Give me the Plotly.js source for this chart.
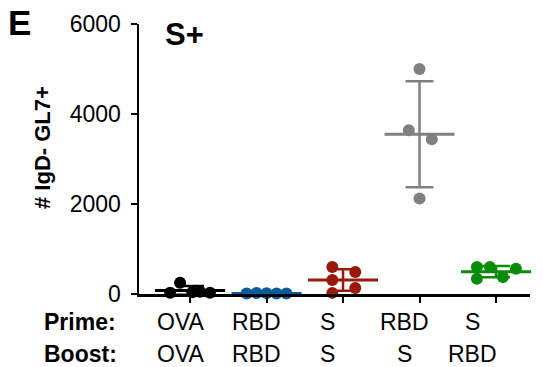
<!DOCTYPE html>
<html>
<head>
<meta charset="utf-8">
<script src="https://cdn.plot.ly/plotly-3.0.1.min.js"></script>
<style>html,body{margin:0;padding:0;background:#fff;}#chart{width:543px;height:367px;}</style>
</head>
<body>
<div id="chart"></div>
<script>
// Groups (Prime / Boost)
const primeLabels = ["OVA", "RBD", "S", "RBD", "S"];
const boostLabels = ["OVA", "RBD", "S", "S", "RBD"];
const groupColors = ["#000000", "#0b5a9b", "#981a0c", "#808080", "#0a8c0a"];

// # IgD- GL7+ (S+) per mouse
const ovaOva = [30, 250, 40, 50, 30];
const rbdRbd = [10, 20, 15, 10, 10];
const sS = [600, 490, 310, 135, 25];
const rbdS = [5000, 3640, 3440, 2120];
const sRbd = [600, 600, 560, 340, 380];
// horizontal scatter offsets of each dot within its group (category units)
const ovaOvaJit = [-0.26, -0.13, 0.03, 0.13, 0.26];
const rbdRbdJit = [-0.26, -0.13, 0, 0.13, 0.26];
const sSJit = [-0.14, 0.16, -0.14, 0.16, -0.14];
const rbdSJit = [0, -0.14, 0.16, 0];
const sRbdJit = [-0.25, -0.08, 0.26, -0.25, 0.09];

const yTicks = [0, 2000, 4000, 6000];

const groups = [ovaOva, rbdRbd, sS, rbdS, sRbd];
const jits = [ovaOvaJit, rbdRbdJit, sSJit, rbdSJit, sRbdJit];

function mean(a){return a.reduce((s,v)=>s+v,0)/a.length;}
function sd(a){const m=mean(a);return Math.sqrt(a.reduce((s,v)=>s+(v-m)*(v-m),0)/(a.length-1));}

const FONT = "Arial, 'Liberation Sans', Helvetica, sans-serif";
const traces = [];
groups.forEach((g, i) => {
  traces.push({
    type: "scatter", mode: "markers",
    x: g.map((v, k) => i + jits[i][k]), y: g,
    marker: {color: groupColors[i], size: 12},
    showlegend: false, hoverinfo: "y", cliponaxis: false
  });
});
groups.forEach((g, i) => {
  traces.push({
    type: "scatter", mode: "markers",
    x: [i], y: [mean(g)],
    marker: {symbol: "line-ew", size: 50, color: groupColors[i], line: {color: groupColors[i], width: 3}},
    error_y: {type: "data", array: [sd(g)], visible: true, color: groupColors[i], thickness: 2.5, width: 14},
    showlegend: false, hoverinfo: "y", cliponaxis: false
  });
});

const annotations = [
  {text: "<b>E</b>", xref: "paper", yref: "paper", x: (19-139)/391, y: (294-22)/270, showarrow: false, font: {family: FONT, size: 35, color: "#000"}, xanchor: "center", yanchor: "middle"},
  {text: "<b>S+</b>", xref: "paper", yref: "paper", x: (184-139)/391, y: (294-34)/270, showarrow: false, font: {family: FONT, size: 31, color: "#000"}, xanchor: "center", yanchor: "middle"},
  {text: "<b># IgD- GL7+</b>", xref: "paper", yref: "paper", x: (42-139)/391, y: (294-148)/270, textangle: -90, showarrow: false, font: {family: FONT, size: 22, color: "#000"}, xanchor: "center", yanchor: "middle"},
  {text: "<b>Prime:</b>", xref: "paper", yref: "paper", x: (80-139)/391, y: (294-322)/270, showarrow: false, font: {family: FONT, size: 23, color: "#000"}, xanchor: "center", yanchor: "middle"},
  {text: "<b>Boost:</b>", xref: "paper", yref: "paper", x: (80-139)/391, y: (294-354)/270, showarrow: false, font: {family: FONT, size: 23, color: "#000"}, xanchor: "center", yanchor: "middle"}
];
const labelShift = [-9, -10, -16, -15, -24];
primeLabels.forEach((t, i) => {
  annotations.push({text: t, xref: "x", yref: "paper", x: i, xshift: labelShift[i], y: (294-322)/270, showarrow: false, font: {family: FONT, size: 23, color: "#000"}, xanchor: "center", yanchor: "middle"});
});
boostLabels.forEach((t, i) => {
  annotations.push({text: t, xref: "x", yref: "paper", x: i, xshift: labelShift[i], y: (294-354)/270, showarrow: false, font: {family: FONT, size: 23, color: "#000"}, xanchor: "center", yanchor: "middle"});
});

const layout = {
  width: 543, height: 367,
  margin: {l: 139, r: 13, t: 24, b: 73},
  paper_bgcolor: "#fff", plot_bgcolor: "#fff",
  font: {family: FONT, color: "#000"},
  xaxis: {
    range: [-0.667, 4.444], showgrid: false, zeroline: false,
    showline: true, linecolor: "#000", linewidth: 2.5,
    tickmode: "array", tickvals: [0, 1, 2, 3, 4], ticktext: ["", "", "", "", ""],
    ticks: "outside", ticklen: 6, tickwidth: 2, tickcolor: "#000"
  },
  yaxis: {
    range: [0, 6000], showgrid: false, zeroline: false,
    showline: true, linecolor: "#000", linewidth: 2.5,
    tickmode: "array", tickvals: yTicks, ticktext: yTicks.map(String),
    ticks: "outside", ticklen: 6, tickwidth: 2, tickcolor: "#000",
    tickfont: {family: FONT, size: 23, color: "#000"}, ticklabelstandoff: 5
  },
  annotations: annotations
};
Plotly.newPlot("chart", traces, layout, {staticPlot: true, displayModeBar: false});
</script>
</body>
</html>
